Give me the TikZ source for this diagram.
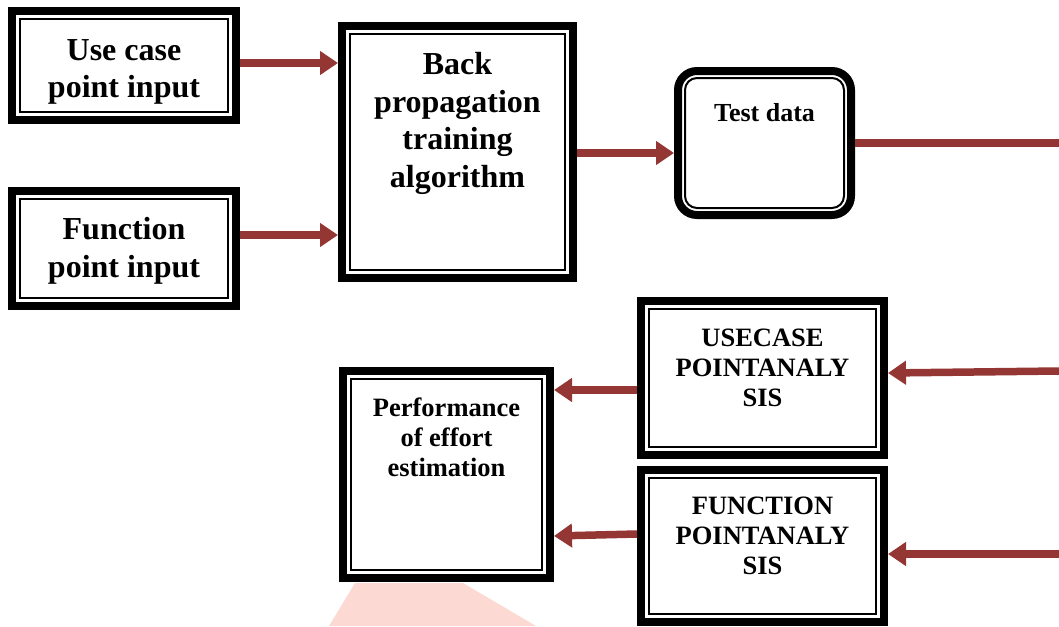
\documentclass[tikz,border=0pt]{standalone}
\usepackage{fontspec}
\setmainfont{Liberation Serif}
\usetikzlibrary{arrows.meta}
\definecolor{arrred}{HTML}{943634}
\definecolor{wmpink}{HTML}{FDD9D3}
\tikzset{
  dbox/.style={draw=black, fill=white, line width=8pt, inner sep=0pt,
    path picture={\draw[line width=2pt]
      ([shift={(8pt,-8pt)}]path picture bounding box.north west) rectangle
      ([shift={(-8pt,8pt)}]path picture bounding box.south east);}},
  rbox/.style={draw=black, fill=white, line width=8pt, inner sep=0pt, rounded corners=19pt,
    path picture={\draw[line width=2pt, rounded corners=12pt]
      ([shift={(7pt,-7pt)}]path picture bounding box.north west) rectangle
      ([shift={(-7pt,7pt)}]path picture bounding box.south east);}},
  bigtxt/.style={align=center, inner sep=0pt, font=\bfseries\fontsize{32}{37.5}\selectfont},
  midtxt/.style={align=center, inner sep=0pt, font=\bfseries\fontsize{26.5}{30}\selectfont},
  arr/.style={draw=arrred, line width=7.5pt, -{Triangle[width=23pt,length=18pt]}},
  plainline/.style={draw=arrred, line width=7.5pt}
}
\begin{document}
\begin{tikzpicture}[x=1pt,y=-1pt]
\useasboundingbox (0,0) rectangle (1059,626);
% faint watermark
\fill[wmpink] (329,626) -- (355,583) -- (463,583) -- (536,626) -- cycle;
% boxes
\node[dbox, minimum width=224pt, minimum height=109pt] (b1) at (124,65.5) {};
\node[dbox, minimum width=224pt, minimum height=115pt] (b2) at (124,248.5) {};
\node[dbox, minimum width=231pt, minimum height=252pt] (b3) at (457.5,152) {};
\node[rbox, minimum width=173pt, minimum height=144pt] (td) at (764.5,143) {};
\node[dbox, minimum width=243pt, minimum height=154pt] (uc) at (762.5,378) {};
\node[dbox, minimum width=243pt, minimum height=152pt] (fp) at (762.5,546) {};
\node[dbox, minimum width=207pt, minimum height=207pt] (pf) at (446.5,474.5) {};
% texts
\node[bigtxt] (b1t) at (124,72) {Use case\\point input};
\node[bigtxt] (b2t) at (124,251) {Function\\point input};
\node[bigtxt] (b3t) at (457.5,123.5) {Back\\propagation\\training\\algorithm};
\node[font=\bfseries\fontsize{26}{30}\selectfont, inner sep=0pt] (tdt) at (764.5,113) {Test data};
\node[midtxt] (uct) at (762.5,367.5) {USECASE\\POINTANALY\\SIS};
\node[midtxt] (fpt) at (762.5,536) {FUNCTION\\POINTANALY\\SIS};
\node[midtxt] (pft) at (446.5,437) {Performance\\of effort\\estimation};
% free ends
\coordinate (e1) at (1059,143);
\coordinate (e2) at (1059,371);
\coordinate (e3) at (1059,554);
% connectors
\draw[arr] (b1.east |- 0,63) -- (b3.west |- 0,63);
\draw[arr] (b2.east |- 0,235) -- (b3.west |- 0,235);
\draw[arr] (b3.east |- 0,153) -- (td.west |- 0,153);
\draw[plainline] (td.east |- 0,143) -- (e1);
\draw[arr] (e2) -- (uc.east |- 0,373);
\draw[arr] (e3) -- (fp.east |- 0,554);
\draw[arr] (uc.west |- 0,390) -- (pf.east |- 0,390);
\draw[arr] (fp.west |- 0,534) -- (pf.east |- 0,536);
\end{tikzpicture}
\end{document}
